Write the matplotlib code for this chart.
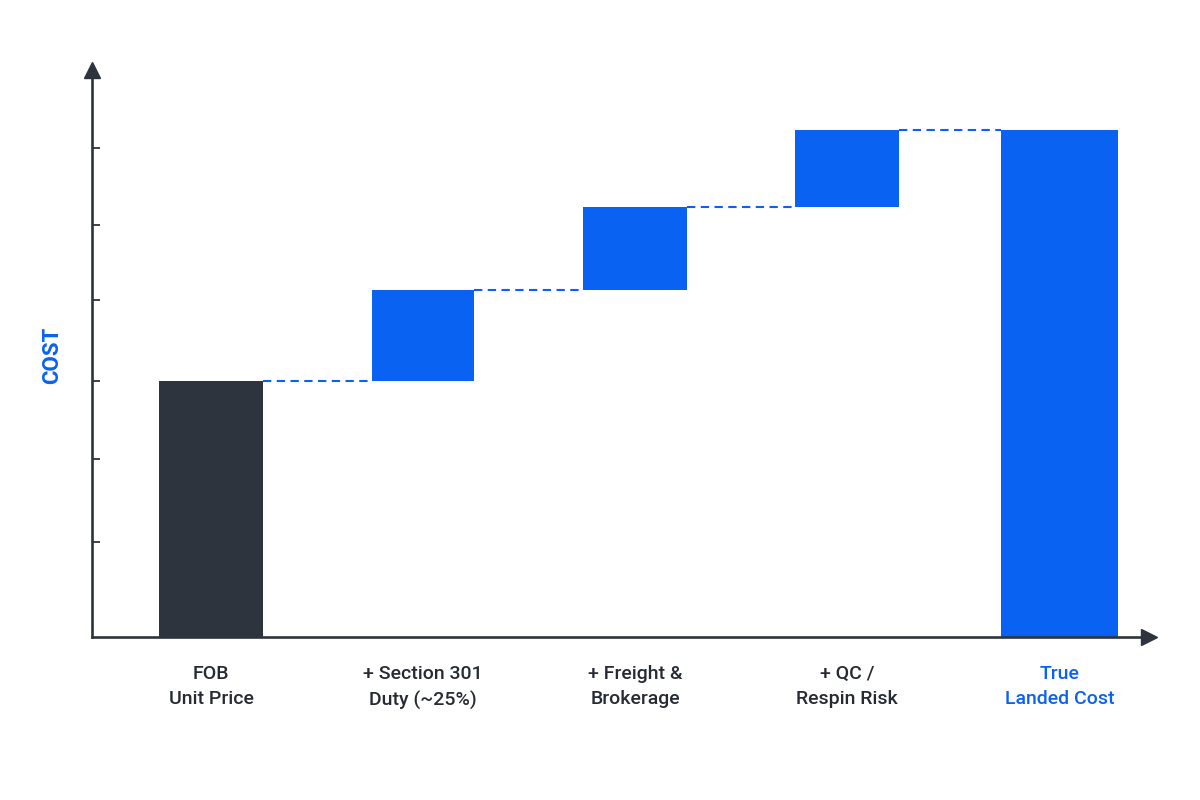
import matplotlib.pyplot as plt

plt.rcParams["font.family"] = ["Roboto", "DejaVu Sans"]

# data
categories = ["FOB\nUnit Price", "+ Section 301\nDuty (~25%)", "+ Freight &\nBrokerage",
              "+ QC /\nRespin Risk", "True\nLanded Cost"]
fob = 100
adders = [35.5, 32.4, 30.0]
y_ticks = [37, 69.5, 100, 131.5, 161, 191]

DARK = "#2e343d"
BLUE = "#0a62f2"
TEXT = "#262b33"

fig = plt.figure(figsize=(12, 8), dpi=100)
ax = fig.add_axes([92 / 1200, 1 - 637 / 800, 1057 / 1200, 567 / 800])

x = list(range(len(categories)))
widths = [0.49, 0.48, 0.49, 0.49, 0.55]
dash = (0, (4, 2.6))

# FOB bar
ax.bar(x[0], fob, width=widths[0], color=DARK, align="center")

# floating adders
level = fob
for i, a in enumerate(adders, start=1):
    ax.bar(x[i], a, bottom=level, width=widths[i], color=BLUE)
    # connector from previous bar
    ax.hlines(level, x[i - 1] + widths[i - 1] / 2, x[i] - widths[i] / 2,
              colors=BLUE, linestyles=dash, linewidth=1.5)
    level += a

total = level
ax.bar(x[4], total, width=widths[4], color=BLUE)
ax.hlines(total, x[3] + widths[3] / 2, x[4] - widths[4] / 2,
          colors=BLUE, linestyles=dash, linewidth=1.5)

ax.set_xlim(-0.561, 4.422)
ax.set_ylim(0, 567 / 2.56)

# axes styling
for s in ["top", "right"]:
    ax.spines[s].set_visible(False)
for s in ["left", "bottom"]:
    ax.spines[s].set_color(DARK)
    ax.spines[s].set_linewidth(1.9)

ax.set_yticks(y_ticks)
ax.set_yticklabels([])
ax.tick_params(axis="y", direction="in", length=6, width=1.3, color=DARK)

ax.set_xticks(x)
ax.set_xticklabels(categories, fontsize=14, fontweight="medium", color=TEXT,
                   linespacing=1.55)
ax.tick_params(axis="x", length=0, pad=20)
ax.get_xticklabels()[-1].set_color(BLUE)

# arrow heads
ax.plot(0, 1, "^", transform=ax.transAxes, clip_on=False,
        color=DARK, markersize=12)
ax.plot(1, 0, ">", transform=ax.transAxes, clip_on=False,
        color=DARK, markersize=12)

ax.text(-0.038, 0.497, "COST", transform=ax.transAxes, rotation=90,
        ha="center", va="center", fontsize=16, fontweight="bold", color=BLUE)

plt.savefig("out.png", dpi=100, facecolor="white")
plt.close()
